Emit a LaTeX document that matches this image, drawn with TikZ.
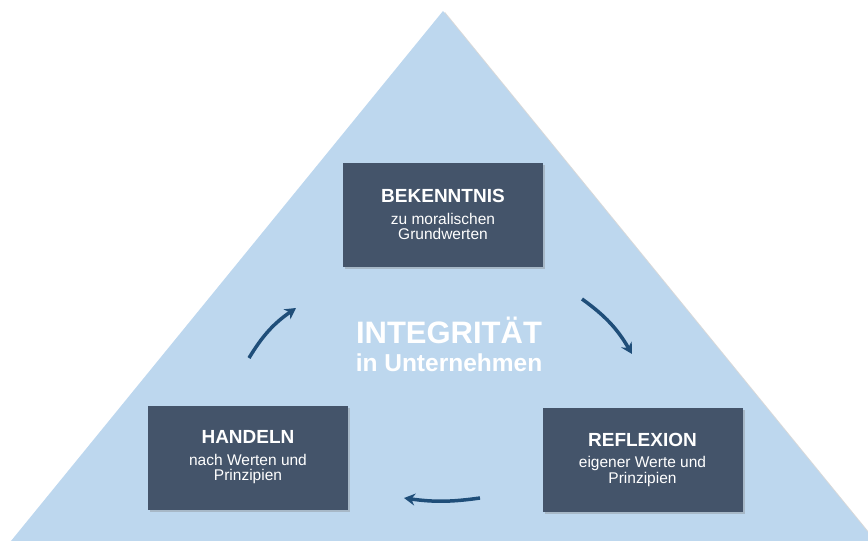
\documentclass[tikz,border=0pt]{standalone}
\usepackage{fontspec}
\setmainfont{Liberation Sans}
\usetikzlibrary{shadows,arrows.meta}
\definecolor{dreieckblau}{HTML}{BDD7EE}
\definecolor{kastengrau}{HTML}{44546A}
\definecolor{pfeilblau}{HTML}{1F4E79}
\begin{document}
\begin{tikzpicture}[x=1pt,y=-1pt,
		kasten/.style={rectangle,fill=kastengrau,text=white,inner sep=0pt,minimum width=200pt,minimum height=104pt,align=center,font=\fontsize{15.5}{15.5}\selectfont,drop shadow={shadow xshift=2pt,shadow yshift=-2pt,opacity=.35}},
		pfeil/.style={-{Stealth[length=11pt,width=12pt]},line width=3.5pt,draw=pfeilblau},
		titel/.style={text=white,anchor=base,inner sep=0pt,font=\bfseries}]
	\useasboundingbox (0,0) rectangle (868,541);
	\clip (0,0) rectangle (868,541);
	\fill[dreieckblau,drop shadow={shadow xshift=2pt,shadow yshift=-1pt,opacity=.3}] (443,11) -- (884,552) -- (2,552) -- cycle;
	\node[kasten] (bekenntnis) at (443,214.5)
		{{\bfseries\fontsize{19}{20}\selectfont BEKENNTNIS}\\[6pt]zu moralischen\\Grundwerten};
	\node[kasten] (handeln) at (248,457.5)
		{{\bfseries\fontsize{19}{20}\selectfont HANDELN}\\[6pt]nach Werten und\\Prinzipien};
	\node[kasten] (reflexion) at (642.5,459.5)
		{{\bfseries\fontsize{19}{20}\selectfont REFLEXION}\\[6pt]eigener Werte und\\Prinzipien};
	\node[titel,font=\bfseries\fontsize{31}{31}\selectfont] (integritaet) at (449,343) {INTEGRIT\"AT};
	\node[titel,font=\bfseries\fontsize{24.5}{25}\selectfont] (unternehmen) at (449,371) {in Unternehmen};
	\coordinate (p1a) at (249,358);
	\coordinate (p1b) at (296,308);
	\coordinate (p2a) at (582,299);
	\coordinate (p2b) at (632,354);
	\coordinate (p3a) at (480,498);
	\coordinate (p3b) at (404,498);
	\draw[pfeil] (p1a) to[bend left=12] (p1b);
	\draw[pfeil] (p2a) to[bend left=12] (p2b);
	\draw[pfeil] (p3a) to[bend left=8] (p3b);
\end{tikzpicture}
\end{document}
